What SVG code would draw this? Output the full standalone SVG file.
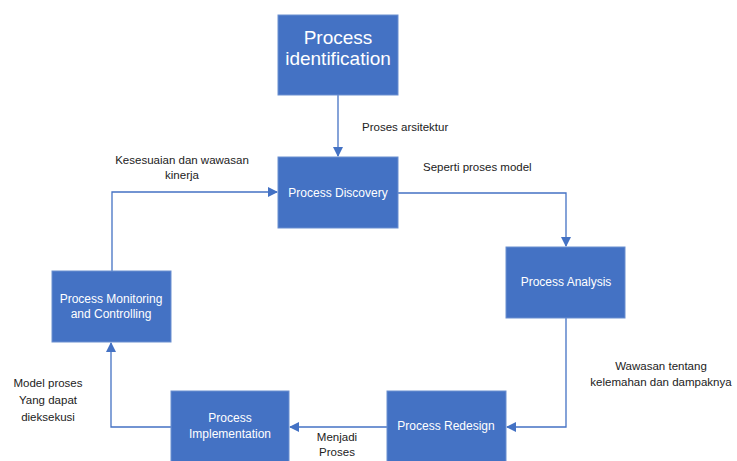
<svg xmlns="http://www.w3.org/2000/svg" width="737" height="461" viewBox="0 0 737 461">
<defs>
<style>
.box{fill:#4472C4;stroke:#6B8FD0;stroke-width:1}
.bt{fill:#fff;font-family:"Liberation Sans",Arial,sans-serif;font-size:12px;text-anchor:middle}
.big{font-size:19px}
.lbl{fill:#222;font-family:"Liberation Sans",Arial,sans-serif;font-size:11.5px;text-anchor:middle}
.con{fill:none;stroke:#4472C4;stroke-width:1.3}
</style>
<marker id="ah" viewBox="0 0 10 10" refX="9" refY="5" markerWidth="10" markerHeight="10" markerUnits="userSpaceOnUse" orient="auto">
<path d="M0,0 L10,5 L0,10 z" fill="#4472C4"/>
</marker>
</defs>
<rect width="737" height="461" fill="#fff"/>
<g id="connectors">
<path class="con" d="M338,95 V156" marker-end="url(#ah)"/>
<path class="con" d="M398,193 H566 V246" marker-end="url(#ah)"/>
<path class="con" d="M566,318 V427 H507" marker-end="url(#ah)"/>
<path class="con" d="M387,427 H290" marker-end="url(#ah)"/>
<path class="con" d="M171,427 H111 V343" marker-end="url(#ah)"/>
<path class="con" d="M112,271 V192 H277" marker-end="url(#ah)"/>
</g>
<g id="labels">
<text class="lbl" x="362" y="131" style="text-anchor:start">Proses arsitektur</text>
<text class="lbl" x="423" y="171" style="text-anchor:start">Seperti proses model</text>
<text class="lbl" x="182" y="164">Kesesuaian dan wawasan</text>
<text class="lbl" x="182" y="179">kinerja</text>
<text class="lbl" x="661" y="370">Wawasan tentang</text>
<text class="lbl" x="661" y="386">kelemahan dan dampaknya</text>
<text class="lbl" x="48" y="387">Model proses</text>
<text class="lbl" x="48" y="404">Yang dapat</text>
<text class="lbl" x="48" y="421">dieksekusi</text>
<text class="lbl" x="337" y="441">Menjadi</text>
<text class="lbl" x="337" y="456">Proses</text>
</g>
<g id="process-identification">
<rect class="box" x="278" y="15" width="120" height="80"/>
<text class="bt big" x="338" y="44">Process</text>
<text class="bt big" x="338" y="65">identification</text>
</g>
<g id="process-discovery">
<rect class="box" x="278" y="157" width="120" height="71"/>
<text class="bt" x="338" y="197">Process Discovery</text>
</g>
<g id="process-analysis">
<rect class="box" x="506" y="247" width="119" height="71"/>
<text class="bt" x="566" y="286">Process Analysis</text>
</g>
<g id="process-redesign">
<rect class="box" x="387" y="391" width="119" height="75"/>
<text class="bt" x="446" y="430">Process Redesign</text>
</g>
<g id="process-implementation">
<rect class="box" x="171" y="391" width="118" height="75"/>
<text class="bt" x="230" y="422">Process</text>
<text class="bt" x="230" y="438">Implementation</text>
</g>
<g id="process-monitoring">
<rect class="box" x="52" y="271" width="119" height="71"/>
<text class="bt" x="111" y="303">Process Monitoring</text>
<text class="bt" x="111" y="318">and Controlling</text>
</g>
</svg>
